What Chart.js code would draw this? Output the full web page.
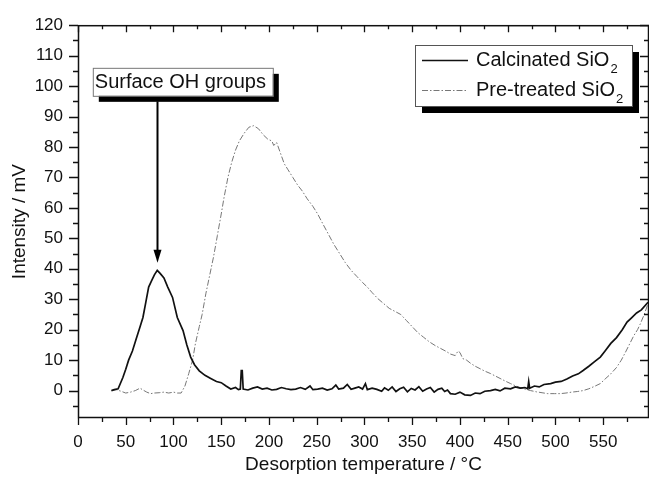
<!DOCTYPE html>
<html>
<head>
<meta charset="utf-8">
<script src="https://cdn.jsdelivr.net/npm/chart.js@4/dist/chart.umd.min.js"></script>
<style>
  html, body { margin: 0; padding: 0; background: #fff; }
  #wrap { width: 649px; height: 479px; }
</style>
</head>
<body>
<div id="wrap"><canvas id="tpd"></canvas></div>
<script>
/*********************************************************
 DATA
*********************************************************/
const calcT = [35,38,42,47,50,53,57,61,65,68,71,74,77,80,83,86,90,94,99,104,110,114,118,122,127,133,139,145,150,155,160,165,168,170,171,172,173,178,183,188,193,198,203,208,213,218,223,228,233,238,243,246,251,256,261,266,270,273,278,282,286,290,294,298,301,303,308,313,318,321,325,329,333,337,341,345,349,353,357,361,365,369,373,377,381,384,387,390,395,400,405,411,416,421,426,432,437,442,447,453,458,463,468,471,472,473,478,483,488,495,500,506,512,518,524,529,535,541,547,552,558,564,570,575,580,585,590,597];
const calcV = [0,0.3,0.6,4.3,7,10,13,17,21,24,29,34,36,38,39.5,38.5,37,34,30.6,24,19.7,15,11,8.5,6.5,5,4,3,2.6,1.5,0.5,1,0.3,0.5,6.6,6.6,0.5,0.2,0.8,1.2,0.5,0.8,0.2,0.4,1,0.6,0.3,0.5,1,0.4,1.5,0.3,0.5,0.8,0.2,0.6,1.8,0.5,0.8,2,0.4,0.8,1.2,0.5,2.3,0.3,0.8,0.4,-0.2,0.9,0.1,1.2,-0.3,0.6,1.1,-0.4,0.7,0.2,1.3,-0.2,0.5,1,-0.5,0.4,0.8,-0.3,0.2,-1,-1.2,-0.5,-1.4,-1.6,-0.8,-1,-0.2,0,0.4,-0.1,0.8,0.6,1.2,0.8,1,0.6,3,0.8,1.5,1.2,2,2.3,2.8,3,3.8,4.8,5.5,6.6,8,9.5,11,13,15.5,17.4,20,22.5,24,25.5,26.5,29];

const preT = [35,40,45,50,55,60,65,68,72,76,80,85,90,95,100,104,108,112,116,120,123,127,130,134,138,142,146,150,153,157,161,165,169,174,179,184,189,194,199,203,205,208,212,216,220,225,230,235,240,246,251,256,262,268,274,280,286,292,298,303,308,314,320,326,332,338,344,350,356,362,368,374,380,386,390,395,398,400,403,407,411,416,421,426,432,437,442,447,453,458,463,468,474,480,486,492,499,505,511,517,523,529,535,541,547,552,558,564,569,574,578,582,586,589,593,597];
const preV = [0,0.3,-0.2,-0.8,-0.5,0,0.8,0.2,-0.5,-1,-0.8,-0.7,-0.5,-0.8,-0.5,-0.8,-0.8,1.5,5.6,10,15.5,21,25,32,38,44,51,58,63.5,70,75,79,82,84.5,86.5,87,86,84,82.5,82,80.5,81.5,78,74.5,72.5,70,67.5,65.5,63,60.5,58,55,51.5,48,45,42,39.5,37.5,35.5,34,32.2,30.2,28.6,27,26,25,23,21,19,17.5,16,14.8,13.8,12.8,12,11.5,13,12.5,10.5,10,9,8,7.2,6.4,5.6,4.8,4,3.2,2.3,1.6,1,0.5,0,-0.4,-0.7,-1,-1,-1,-0.8,-0.5,-0.3,0,0.6,1.4,2.3,3.8,5.5,7.6,10,13,15.5,18,20,22,25,28.6];

const xTicks = [0,50,100,150,200,250,300,350,400,450,500,550];
const yTicks = [0,10,20,30,40,50,60,70,80,90,100,110,120];
const xMin = 0, xMax = 598;
const yMin = -9, yMax = 120;

const seriesNames = ["Calcinated SiO", "Pre-treated SiO"];
const annoText = "Surface OH groups";
// arrow: x position and from/to values in data units
const annoX = 83, annoFrom = 95, annoTo = 42;
const annoBoxLeft = 15.5, annoBoxTop = 106;

/*********************************************************
 HELPERS
*********************************************************/
const FONT = "'Liberation Sans', Arial, sans-serif";

function toXY(xs, ys) {
  return xs.map((x, i) => ({ x: x, y: ys[i] }));
}

/*********************************************************
 FRAME + MINOR TICKS
*********************************************************/
const framePlugin = {
  id: "frame",
  afterDraw(chart) {
    const c = chart.ctx;
    const a = chart.chartArea;
    const xs = chart.scales.x, ys = chart.scales.y;
    c.save();
    c.strokeStyle = "#111";
    c.lineWidth = 1.5;
    c.strokeRect(a.left + 0.5, a.top + 0.5, a.right - a.left - 1, a.bottom - a.top - 1);

    c.lineWidth = 1.3;
    c.beginPath();
    for (let v = 0; v <= xMax; v += 25) {
      const p = Math.round(xs.getPixelForValue(v)) + 0.5;
      const major = v % 50 === 0;
      const len = major ? 7 : 4;
      c.moveTo(p, a.bottom); c.lineTo(p, a.bottom + len);
      c.moveTo(p, a.top); c.lineTo(p, a.top + len);
    }
    for (let v = -5; v <= yMax; v += 5) {
      const p = Math.round(ys.getPixelForValue(v)) + 0.5;
      const major = v % 10 === 0;
      const len = major ? 9 : 5;
      c.moveTo(a.left, p); c.lineTo(a.left - len, p);
      c.moveTo(a.right, p); c.lineTo(a.right - len, p);
    }
    c.stroke();
    c.restore();
  }
};

/*********************************************************
 LEGEND + ANNOTATION
*********************************************************/
const overlayPlugin = {
  id: "overlay",
  afterDraw(chart) {
    const c = chart.ctx;
    const xs = chart.scales.x, ys = chart.scales.y;
    c.save();

    // annotation box
    const bx = xs.getPixelForValue(annoBoxLeft);
    const by = ys.getPixelForValue(annoBoxTop);
    const bw = 180, bh = 28;
    c.fillStyle = "#000";
    c.fillRect(bx + 6, by + 6, bw, bh);
    c.fillStyle = "#fff";
    c.fillRect(bx, by, bw, bh);
    c.strokeStyle = "#777";
    c.lineWidth = 1;
    c.strokeRect(bx + 0.5, by + 0.5, bw, bh);
    c.fillStyle = "#111";
    c.font = "20px " + FONT;
    c.textBaseline = "middle";
    c.textAlign = "left";
    c.fillText(annoText, bx + 2, by + bh / 2 + 1);

    // arrow
    const ax = Math.round(xs.getPixelForValue(annoX)) + 0.5;
    const ay0 = ys.getPixelForValue(annoFrom);
    const ay1 = ys.getPixelForValue(annoTo);
    c.strokeStyle = "#000";
    c.lineWidth = 2;
    c.beginPath();
    c.moveTo(ax, ay0); c.lineTo(ax, ay1 - 10);
    c.stroke();
    c.beginPath();
    c.moveTo(ax - 4, ay1 - 13); c.lineTo(ax + 4, ay1 - 13); c.lineTo(ax, ay1);
    c.closePath();
    c.fillStyle = "#000";
    c.fill();

    // legend box
    const lx = 415, ly = 45, lw = 217, lh = 61;
    c.fillStyle = "#000";
    c.fillRect(lx + 7, ly + 7, lw, lh);
    c.fillStyle = "#fff";
    c.fillRect(lx, ly, lw, lh);
    c.strokeStyle = "#555";
    c.lineWidth = 1;
    c.strokeRect(lx + 0.5, ly + 0.5, lw, lh);

    const rows = [ly + 15, ly + 45];
    const ds = chart.data.datasets;
    rows.forEach((ry, i) => {
      c.strokeStyle = ds[i].borderColor;
      c.lineWidth = i === 0 ? 1.5 : 1;
      c.setLineDash(ds[i].borderDash || []);
      c.beginPath();
      c.moveTo(lx + 7, ry + 0.5); c.lineTo(lx + 53, ry + 0.5);
      c.stroke();
      c.setLineDash([]);
      c.fillStyle = "#111";
      c.font = "20px " + FONT;
      c.textBaseline = "middle";
      c.fillText(seriesNames[i], lx + 61, ry);
      const w = c.measureText(seriesNames[i]).width;
      c.font = "13px " + FONT;
      c.fillText("2", lx + 61 + w + 1, ry + 9);
    });

    c.restore();
  }
};

/*********************************************************
 CHART
*********************************************************/
const ctx = document.getElementById("tpd").getContext("2d");

const tpdChart = new Chart(ctx, {
  type: "line",
  data: {
    datasets: [{
      label: seriesNames[0],
      data: toXY(calcT, calcV),
      borderColor: "#111",
      borderWidth: 1.7,
      pointRadius: 0,
      tension: 0,
      fill: false
    }, {
      label: seriesNames[1],
      data: toXY(preT, preV),
      borderColor: "#777",
      borderWidth: 1,
      borderDash: [6, 2, 1.5, 2],
      pointRadius: 0,
      tension: 0,
      fill: false
    }]
  },
  options: {
    responsive: true,
    maintainAspectRatio: false,
    animation: false,
    layout: { padding: { left: 0, right: 0, top: 25, bottom: 0 } },
    plugins: {
      legend: { display: false },
      tooltip: { enabled: false }
    },
    scales: {
      x: {
        type: "linear",
        min: xMin,
        max: xMax,
        grid: { display: false, drawTicks: false },
        border: { display: false },
        afterBuildTicks: s => { s.ticks = xTicks.map(v => ({ value: v })); },
        afterFit: s => { s.height = 61; },
        ticks: {
          padding: 14,
          color: "#111",
          font: { family: FONT, size: 17 },
          maxRotation: 0
        },
        title: {
          display: true,
          text: "Desorption temperature / °C",
          color: "#111",
          font: { family: FONT, size: 19 },
          padding: { top: 0, bottom: 3 }
        }
      },
      y: {
        type: "linear",
        min: yMin,
        max: yMax,
        grid: { display: false, drawTicks: false },
        border: { display: false },
        afterBuildTicks: s => { s.ticks = yTicks.map(v => ({ value: v })); },
        afterFit: s => { s.width = 78; },
        ticks: {
          padding: 15,
          color: "#111",
          font: { family: FONT, size: 17 }
        },
        title: {
          display: true,
          text: "Intensity / mV",
          color: "#111",
          font: { family: FONT, size: 19 },
          padding: { top: 8, bottom: 0 }
        }
      }
    }
  },
  plugins: [framePlugin, overlayPlugin]
});
</script>
</body>
</html>
